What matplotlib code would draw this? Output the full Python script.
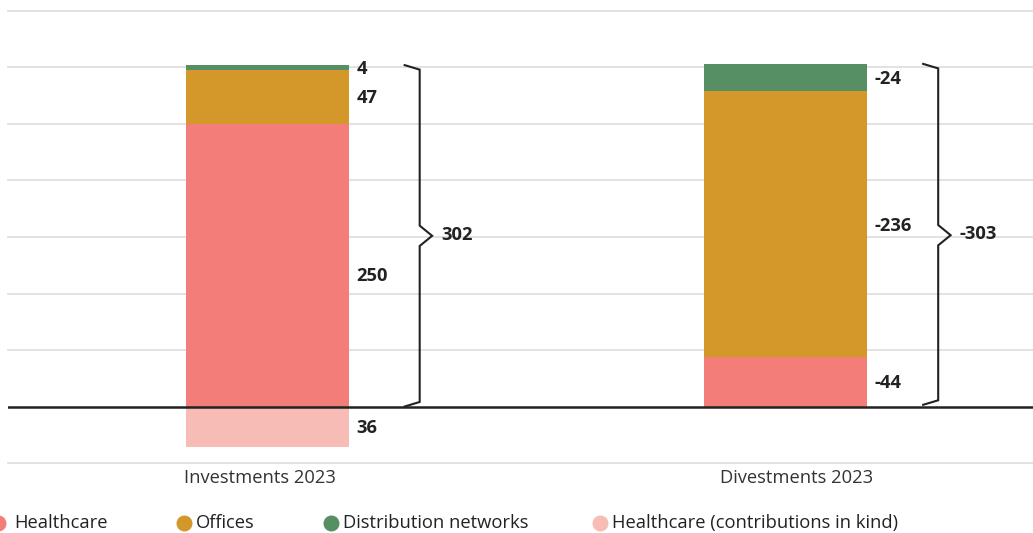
import matplotlib
matplotlib.use("Agg")
import matplotlib.pyplot as plt
from matplotlib.lines import Line2D

plt.rcParams['font.family'] = ['Open Sans', 'DejaVu Sans']

# Data (EUR m)
categories = ["Investments 2023", "Divestments 2023"]
series_names = ["Healthcare", "Offices", "Distribution networks"]
investments = [250.4, 47.3, 4.4]
divestments = [43.6, 235.7, 23.9]
contributions_in_kind = [36.0]
totals = [302, -303]

colors = {
    "Healthcare": "#F37D78",
    "Offices": "#D3972A",
    "Distribution networks": "#578F65",
    "Healthcare (contributions in kind)": "#F6BCB5",
}
legend_items = ["Healthcare", "Offices", "Distribution networks",
                "Healthcare (contributions in kind)"]

W, H = 1033, 533
fig = plt.figure(figsize=(W / 100, H / 100), dpi=100)
ax_left, ax_right = 8, 1045
ax_bottom, ax_top = 463, 11
ax = fig.add_axes([ax_left / W, (H - ax_bottom) / H,
                   (ax_right - ax_left) / W, (ax_bottom - ax_top) / H])
ax.set_xlim(-0.5, 1.5)
ax.set_ylim(-50, 350)

for y in range(-50, 351, 50):
    if y == 0:
        continue
    ax.axhline(y, color="#dddddd", lw=1.2, zorder=0, clip_on=False)
ax.axhline(0, color="#222222", lw=1.8, zorder=5)

bar_w = 0.314
text_dx = 0.172
text_dy = -1.4
value_color = "#222222"
fs = 13.2

# stacked bars, with labels at segment centres
for xi, vals, sign in [(0, investments, 1), (1, divestments, -1)]:
    bottom = 0
    for name, v in zip(series_names, vals):
        ax.bar(xi, v, bottom=bottom, width=bar_w, color=colors[name],
               zorder=2, linewidth=0)
        yc = bottom + v / 2 + text_dy
        if xi == 0 and name == "Healthcare":
            yc -= 8
        ax.text(xi + text_dx, yc, f"{sign * round(v):d}", ha="left",
                va="center", fontsize=fs, fontweight="bold",
                color=value_color)
        bottom += v

# contributions in kind below the axis
ax.bar(0, -contributions_in_kind[0], width=bar_w,
       color=colors["Healthcare (contributions in kind)"], zorder=2,
       linewidth=0)
ax.text(0 + text_dx, -contributions_in_kind[0] / 2 + text_dy,
        f"{round(contributions_in_kind[0]):d}", ha="left", va="center",
        fontsize=fs, fontweight="bold", color=value_color)

# curly-style brackets with totals
def bracket(xc, top, bottom_gap, label):
    x0, x1, x2 = xc + 0.265, xc + 0.294, xc + 0.318
    mid = top / 2
    ys = [top, top - 4, mid + 9, mid, mid - 9, bottom_gap + 4, bottom_gap]
    xs_ = [x0, x1, x1, x2, x1, x1, x0]
    ax.plot(xs_, ys, color="#222222", lw=1.5, zorder=4,
            solid_joinstyle="miter", clip_on=False)
    ax.text(xc + 0.336, mid + 1.0, label, ha="left", va="center",
            fontsize=fs, fontweight="bold", color=value_color)

bracket(0, sum(investments), 0, f"{totals[0]:d}")
bracket(1, sum(divestments), 1.5, f"{totals[1]:d}")

# category labels
cat_x = [-0.014, 1.02]
for cx, cat in zip(cat_x, categories):
    ax.text(cx, -63, cat, ha="center", va="center", fontsize=fs,
            color="#333333", clip_on=False)

for s in ax.spines.values():
    s.set_visible(False)
ax.set_xticks([])
ax.set_yticks([])

# legend row
legend_x = [-2, 184, 331, 600]
text_x = [14, 196, 343, 612]
for lx, tx, name in zip(legend_x, text_x, legend_items):
    fig.add_artist(Line2D([lx / W], [(H - 523) / H], marker="o",
                          markersize=10.5, color=colors[name],
                          linestyle="none", transform=fig.transFigure))
    fig.text(tx / W, (H - 523) / H, name, ha="left", va="center",
             fontsize=fs, color="#222222")

fig.savefig("out.png", dpi=100)
